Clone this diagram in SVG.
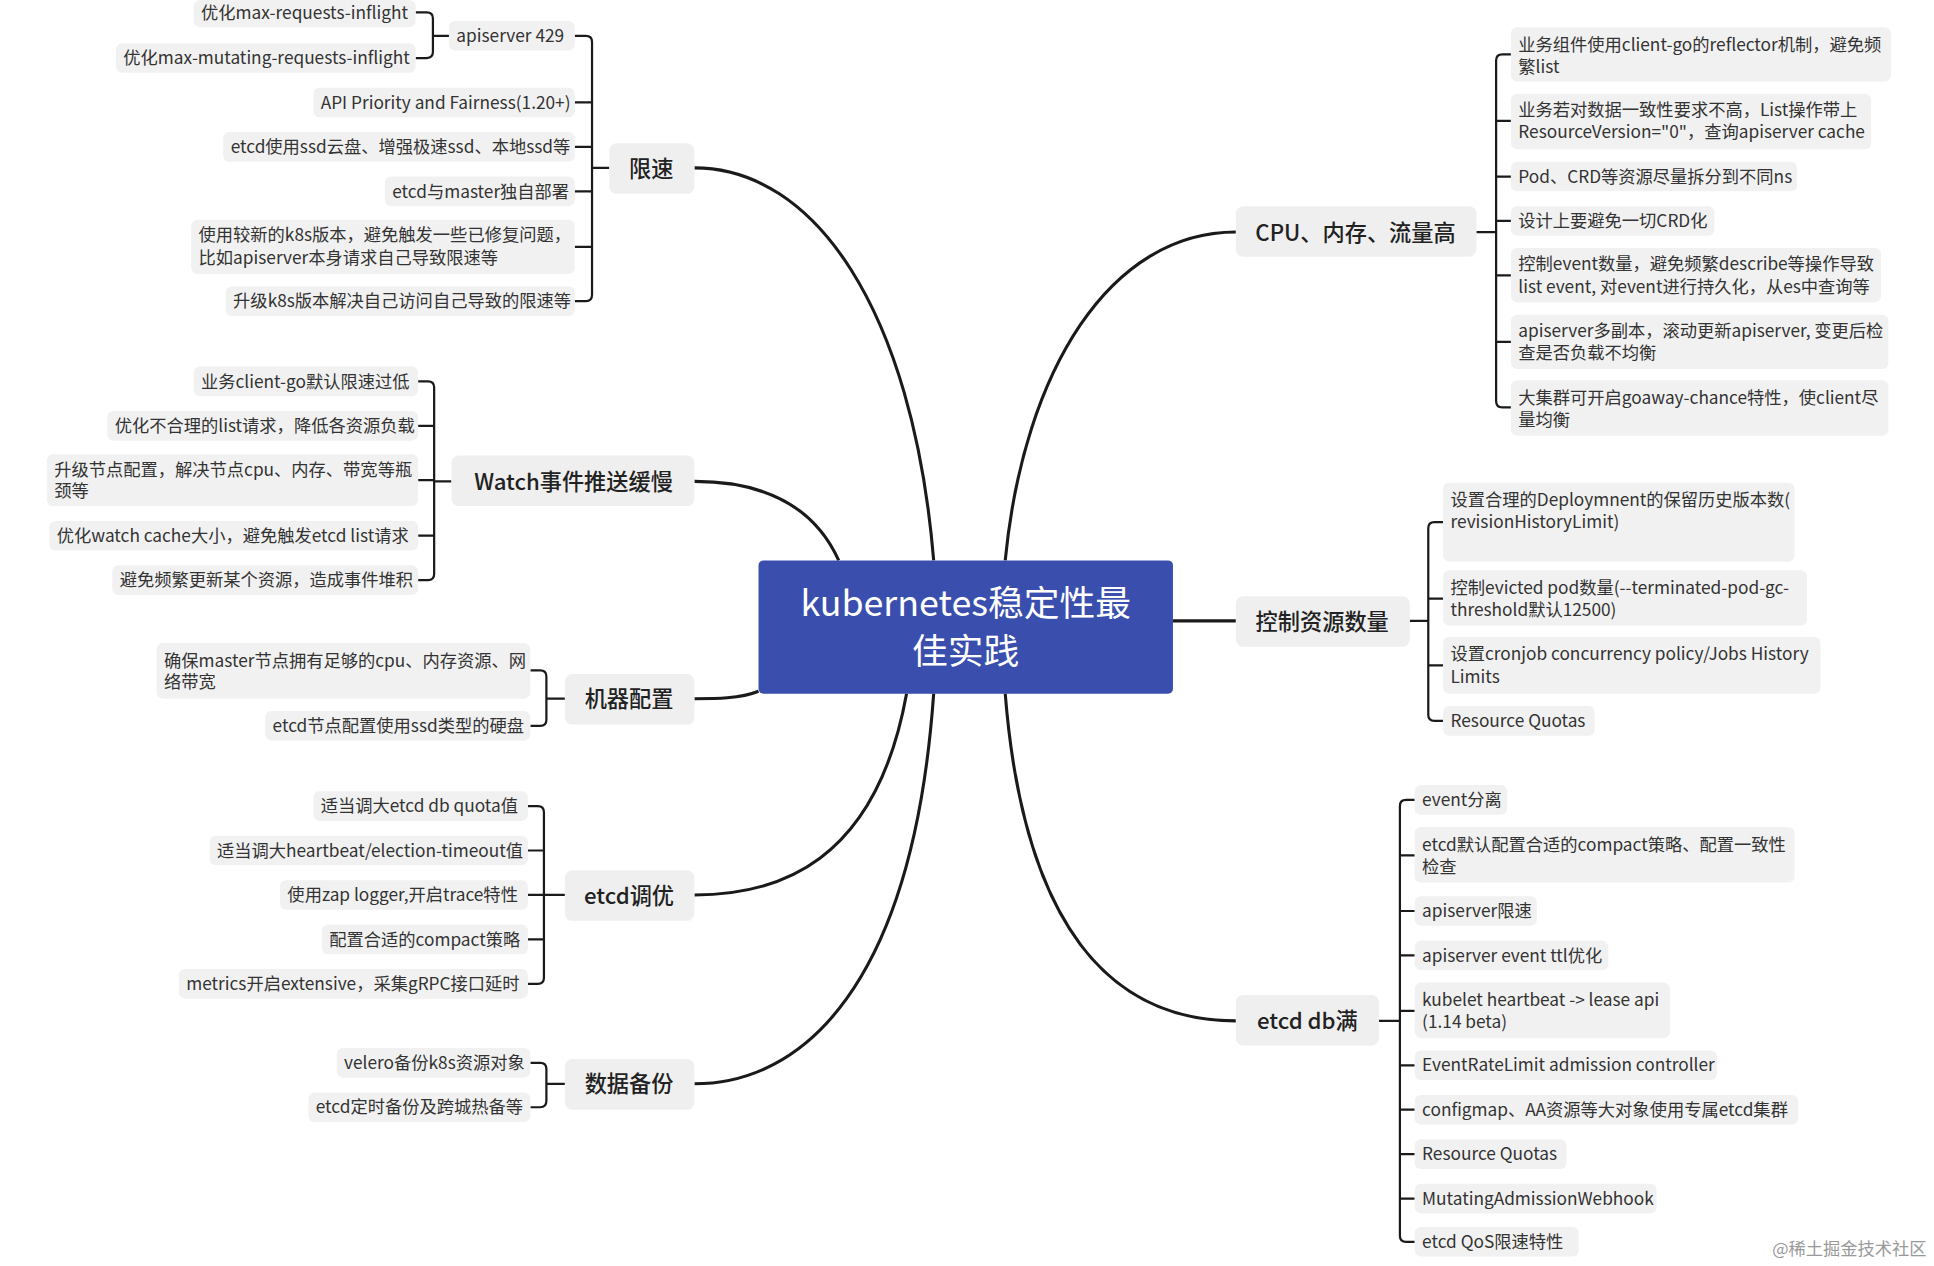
<svg xmlns="http://www.w3.org/2000/svg" width="1934" height="1266" viewBox="0 0 1934 1266">
<style>
.leaf{fill:#f1f1f1}
.lt{font-family:"Noto Sans CJK SC","Noto Sans",sans-serif;font-size:14px;fill:#333}
.br{fill:#efefef}
.bt{font-family:"Noto Sans CJK SC","Noto Sans",sans-serif;font-size:18px;fill:#222;text-anchor:middle;font-weight:500}
.c{fill:none;stroke:#1a1a1a;stroke-width:2.5}
.k{fill:none;stroke:#1a1a1a;stroke-width:1.8}
</style>
<rect width="1934" height="1266" fill="#fff"/>
<g transform="scale(1.2334,1.2344)">
<g id="connectors">
<path class="c" d="M757,454 C740,250 660,136 563,136"/>
<path class="c" d="M680,454 C660,410 620,390 563,390"/>
<path class="c" d="M615,560 C600,566 580,566 563,566"/>
<path class="c" d="M735,562 C710,700 630,725 563,725"/>
<path class="c" d="M757,562 C740,800 650,878 563,878"/>
<path class="c" d="M815,454 C830,300 900,188 1002,188"/>
<path class="c" d="M951,503 L1002,503"/>
<path class="c" d="M815,562 C830,750 900,827 1002,827"/>
<!-- 限速 -->
<path class="k" d="M494,136 H480 M466,29 H475 Q480,29 480,34 V239 Q480,244 475,244 H466 M480,83 H466 M480,119 H466 M480,155 H466 M480,200 H466"/>
<path class="k" d="M364,29 H351 M337,10 H346 Q351,10 351,15 V42 Q351,47 346,47 H337"/>
<!-- watch -->
<path class="k" d="M366,390 H352 M339,309 H347 Q352,309 352,314 V465 Q352,470 347,470 H339 M352,345 H339 M352,389 H339 M352,434 H339"/>
<!-- 机器 -->
<path class="k" d="M458,566 H443 M430,543 H438 Q443,543 443,548 V583 Q443,588 438,588 H430"/>
<!-- etcd调优 -->
<path class="k" d="M458,725 H441 M428,653 H436 Q441,653 441,658 V792 Q441,797 436,797 H428 M441,689 H428 M441,725 H428 M441,761 H428"/>
<!-- 备份 -->
<path class="k" d="M458,878 H443 M430,861 H438 Q443,861 443,866 V892 Q443,897 438,897 H430"/>
<!-- CPU -->
<path class="k" d="M1197,188 H1213 M1225,44 H1218 Q1213,44 1213,49 V325 Q1213,330 1218,330 H1225 M1213,98 H1225 M1213,143 H1225 M1213,179 H1225 M1213,223 H1225 M1213,277 H1225"/>
<!-- 控制 -->
<path class="k" d="M1143,503 H1158 M1170,423 H1163 Q1158,423 1158,428 V579 Q1158,584 1163,584 H1170 M1158,485 H1170 M1158,539 H1170"/>
<!-- etcd db -->
<path class="k" d="M1118,827 H1135 M1147,648 H1140 Q1135,648 1135,653 V1001 Q1135,1006 1140,1006 H1147 M1135,693 H1147 M1135,738 H1147 M1135,774 H1147 M1135,819 H1147 M1135,863 H1147 M1135,899 H1147 M1135,935 H1147 M1135,971 H1147"/>
</g>
<g id="center"><rect x="615" y="454" width="336" height="108" rx="4" fill="#3a4fad"/>
<text x="783" y="499" text-anchor="middle" font-family="Noto Sans CJK SC,Noto Sans,sans-serif" font-size="29" fill="#fff">kubernetes稳定性最</text>
<text x="783" y="538" text-anchor="middle" font-family="Noto Sans CJK SC,Noto Sans,sans-serif" font-size="29" fill="#fff">佳实践</text></g>
<g id="b1"><rect class="br" x="494" y="116" width="69" height="41" rx="6"/><text class="bt" x="528" y="143">限速</text></g>
<g id="b2"><rect class="br" x="366" y="369" width="197" height="41" rx="6"/><text class="bt" x="465" y="397">Watch事件推送缓慢</text></g>
<g id="b3"><rect class="br" x="458" y="546" width="105" height="41" rx="6"/><text class="bt" x="510" y="573">机器配置</text></g>
<g id="b4"><rect class="br" x="458" y="705" width="105" height="41" rx="6"/><text class="bt" x="510" y="732">etcd调优</text></g>
<g id="b5"><rect class="br" x="458" y="858" width="105" height="41" rx="6"/><text class="bt" x="510" y="885">数据备份</text></g>
<g id="b6"><rect class="br" x="1002" y="167" width="195" height="41" rx="6"/><text class="bt" x="1099" y="195">CPU、内存、流量高</text></g>
<g id="b7"><rect class="br" x="1002" y="483" width="141" height="41" rx="6"/><text class="bt" x="1072" y="510">控制资源数量</text></g>
<g id="b8"><rect class="br" x="1002" y="806" width="116" height="41" rx="6"/><text class="bt" x="1060" y="834">etcd db满</text></g>
<g id="leaves">
<g><rect class="leaf" x="364" y="17" width="102" height="24" rx="5"/><text class="lt" x="370" y="34">apiserver 429</text></g>
<g><rect class="leaf" x="157" y="0" width="180" height="22" rx="5"/><text class="lt" x="163" y="15">优化max-requests-inflight</text></g>
<g><rect class="leaf" x="94" y="35" width="243" height="24" rx="5"/><text class="lt" x="100" y="52">优化max-mutating-requests-inflight</text></g>
<g><rect class="leaf" x="254" y="71" width="212" height="24" rx="5"/><text class="lt" x="260" y="88">API Priority and Fairness(1.20+)</text></g>
<g><rect class="leaf" x="181" y="107" width="285" height="24" rx="5"/><text class="lt" x="187" y="124">etcd使用ssd云盘、增强极速ssd、本地ssd等</text></g>
<g><rect class="leaf" x="312" y="143" width="154" height="24" rx="5"/><text class="lt" x="318" y="160">etcd与master独自部署</text></g>
<g><rect class="leaf" x="155" y="178" width="311" height="44" rx="5"/><text class="lt" x="161" y="195">使用较新的k8s版本，避免触发一些已修复问题，</text><text class="lt" x="161" y="214">比如apiserver本身请求自己导致限速等</text></g>
<g><rect class="leaf" x="183" y="232" width="283" height="24" rx="5"/><text class="lt" x="189" y="249">升级k8s版本解决自己访问自己导致的限速等</text></g>
<g><rect class="leaf" x="157" y="297" width="182" height="24" rx="5"/><text class="lt" x="163" y="314">业务client-go默认限速过低</text></g>
<g><rect class="leaf" x="87" y="333" width="252" height="24" rx="5"/><text class="lt" x="93" y="350">优化不合理的list请求，降低各资源负载</text></g>
<g><rect class="leaf" x="38" y="368" width="301" height="42" rx="5"/><text class="lt" x="44" y="386">升级节点配置，解决节点cpu、内存、带宽等瓶</text><text class="lt" x="44" y="403">颈等</text></g>
<g><rect class="leaf" x="40" y="422" width="299" height="24" rx="5"/><text class="lt" x="46" y="439">优化watch cache大小，避免触发etcd list请求</text></g>
<g><rect class="leaf" x="91" y="458" width="248" height="24" rx="5"/><text class="lt" x="97" y="475">避免频繁更新某个资源，造成事件堆积</text></g>
<g><rect class="leaf" x="127" y="521" width="303" height="45" rx="5"/><text class="lt" x="133" y="540">确保master节点拥有足够的cpu、内存资源、网</text><text class="lt" x="133" y="557">络带宽</text></g>
<g><rect class="leaf" x="215" y="576" width="215" height="24" rx="5"/><text class="lt" x="221" y="593">etcd节点配置使用ssd类型的硬盘</text></g>
<g><rect class="leaf" x="254" y="641" width="174" height="24" rx="5"/><text class="lt" x="260" y="658">适当调大etcd db quota值</text></g>
<g><rect class="leaf" x="170" y="677" width="258" height="24" rx="5"/><text class="lt" x="176" y="694">适当调大heartbeat/election-timeout值</text></g>
<g><rect class="leaf" x="227" y="713" width="201" height="24" rx="5"/><text class="lt" x="233" y="730">使用zap logger,开启trace特性</text></g>
<g><rect class="leaf" x="261" y="749" width="167" height="24" rx="5"/><text class="lt" x="267" y="766">配置合适的compact策略</text></g>
<g><rect class="leaf" x="145" y="785" width="283" height="24" rx="5"/><text class="lt" x="151" y="802">metrics开启extensive，采集gRPC接口延时</text></g>
<g><rect class="leaf" x="273" y="849" width="157" height="24" rx="5"/><text class="lt" x="279" y="866">velero备份k8s资源对象</text></g>
<g><rect class="leaf" x="250" y="885" width="180" height="24" rx="5"/><text class="lt" x="256" y="902">etcd定时备份及跨城热备等</text></g>
<g><rect class="leaf" x="1225" y="22" width="308" height="44" rx="5"/><text class="lt" x="1231" y="41">业务组件使用client-go的reflector机制，避免频</text><text class="lt" x="1231" y="59">繁list</text></g>
<g><rect class="leaf" x="1225" y="76" width="292" height="45" rx="5"/><text class="lt" x="1231" y="94">业务若对数据一致性要求不高，List操作带上</text><text class="lt" x="1231" y="112">ResourceVersion="0"，查询apiserver cache</text></g>
<g><rect class="leaf" x="1225" y="131" width="232" height="24" rx="5"/><text class="lt" x="1231" y="148">Pod、CRD等资源尽量拆分到不同ns</text></g>
<g><rect class="leaf" x="1225" y="167" width="165" height="24" rx="5"/><text class="lt" x="1231" y="184">设计上要避免一切CRD化</text></g>
<g><rect class="leaf" x="1225" y="201" width="300" height="44" rx="5"/><text class="lt" x="1231" y="219">控制event数量，避免频繁describe等操作导致</text><text class="lt" x="1231" y="237">list event, 对event进行持久化，从es中查询等</text></g>
<g><rect class="leaf" x="1225" y="255" width="306" height="44" rx="5"/><text class="lt" x="1231" y="273">apiserver多副本，滚动更新apiserver, 变更后检</text><text class="lt" x="1231" y="291">查是否负载不均衡</text></g>
<g><rect class="leaf" x="1225" y="308" width="306" height="45" rx="5"/><text class="lt" x="1231" y="327">大集群可开启goaway-chance特性，使client尽</text><text class="lt" x="1231" y="345">量均衡</text></g>
<g><rect class="leaf" x="1170" y="391" width="285" height="64" rx="5"/><text class="lt" x="1176" y="410">设置合理的Deploymnent的保留历史版本数(</text><text class="lt" x="1176" y="428">revisionHistoryLimit)</text></g>
<g><rect class="leaf" x="1170" y="462" width="295" height="45" rx="5"/><text class="lt" x="1176" y="481">控制evicted pod数量(--terminated-pod-gc-</text><text class="lt" x="1176" y="499">threshold默认12500)</text></g>
<g><rect class="leaf" x="1170" y="516" width="306" height="46" rx="5"/><text class="lt" x="1176" y="535">设置cronjob concurrency policy/Jobs History</text><text class="lt" x="1176" y="553">Limits</text></g>
<g><rect class="leaf" x="1170" y="572" width="123" height="24" rx="5"/><text class="lt" x="1176" y="589">Resource Quotas</text></g>
<g><rect class="leaf" x="1147" y="636" width="75" height="24" rx="5"/><text class="lt" x="1153" y="653">event分离</text></g>
<g><rect class="leaf" x="1147" y="670" width="308" height="45" rx="5"/><text class="lt" x="1153" y="689">etcd默认配置合适的compact策略、配置一致性</text><text class="lt" x="1153" y="707">检查</text></g>
<g><rect class="leaf" x="1147" y="726" width="99" height="24" rx="5"/><text class="lt" x="1153" y="743">apiserver限速</text></g>
<g><rect class="leaf" x="1147" y="762" width="157" height="24" rx="5"/><text class="lt" x="1153" y="779">apiserver event ttl优化</text></g>
<g><rect class="leaf" x="1147" y="796" width="207" height="45" rx="5"/><text class="lt" x="1153" y="815">kubelet heartbeat -&gt; lease api</text><text class="lt" x="1153" y="833">(1.14 beta)</text></g>
<g><rect class="leaf" x="1147" y="851" width="245" height="24" rx="5"/><text class="lt" x="1153" y="868">EventRateLimit admission controller</text></g>
<g><rect class="leaf" x="1147" y="887" width="311" height="24" rx="5"/><text class="lt" x="1153" y="904">configmap、AA资源等大对象使用专属etcd集群</text></g>
<g><rect class="leaf" x="1147" y="923" width="123" height="24" rx="5"/><text class="lt" x="1153" y="940">Resource Quotas</text></g>
<g><rect class="leaf" x="1147" y="959" width="196" height="24" rx="5"/><text class="lt" x="1153" y="976">MutatingAdmissionWebhook</text></g>
<g><rect class="leaf" x="1147" y="994" width="133" height="24" rx="5"/><text class="lt" x="1153" y="1011">etcd QoS限速特性</text></g>
</g>
<text x="1562" y="1017" text-anchor="end" font-family="Noto Sans CJK SC,sans-serif" font-size="14" fill="#999">@稀土掘金技术社区</text>
</g>
</svg>
